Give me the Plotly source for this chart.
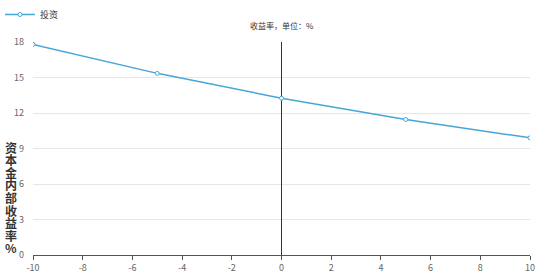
import plotly.graph_objects as go

x_vals = [-10, -5, 0, 5, 10]
irr_vals = [17.8, 15.35, 13.25, 11.45, 9.9]
series_name = "投资"
y_ticks = [0, 3, 6, 9, 12, 15, 18]
x_ticks = [-10, -8, -6, -4, -2, 0, 2, 4, 6, 8, 10]
x_tick_text = [str(v) for v in x_ticks]
title_text = "收益率，单位：%"
y_title = "资本金内部收益率%"

font = "Noto Sans CJK SC"
blue = "#46a6d8"

fig = go.Figure()
fig.add_trace(go.Scatter(
    x=x_vals, y=irr_vals, name=series_name, mode="lines+markers",
    line=dict(color=blue, width=1.5),
    marker=dict(symbol="circle", size=4, color="white", line=dict(color=blue, width=1)),
))

fig.update_layout(
    width=554, height=278,
    margin=dict(l=33, r=24, t=42, b=23, autoexpand=False),
    paper_bgcolor="white", plot_bgcolor="white",
    font=dict(family=font, size=9, color="#555"),
    showlegend=True,
    legend=dict(orientation="h", x=-0.022, y=1.0, xref="container", yref="container",
                xanchor="left", yanchor="top", font=dict(size=9, color="#333"),
                itemwidth=30, bgcolor="rgba(0,0,0,0)"),
    xaxis=dict(range=[-10, 10], tickvals=x_ticks, ticktext=x_tick_text, showgrid=False,
               showline=True, linecolor="#555", linewidth=1, automargin=False,
               ticks="outside", ticklen=4, tickcolor="#555",
               zeroline=True, zerolinecolor="#333", zerolinewidth=1,
               tickfont=dict(size=9, color="#666")),
    yaxis=dict(range=[0, 18], tickvals=y_ticks, showgrid=True, automargin=False,
               gridcolor="#e6e6e6", gridwidth=1, zeroline=False,
               showline=False, ticks="", ticklabelstandoff=8,
               tickfont=dict(size=9, color="#666")),
)

fig.add_annotation(text=title_text, x=0.5, y=1, xref="paper", yref="paper",
                   yshift=9, showarrow=False, font=dict(size=8, color="#333"),
                   xanchor="center", yanchor="bottom")

first_center = 147
step = 12.6
bottom_px = 255
for i, ch in enumerate(y_title):
    fig.add_annotation(text=ch, x=0, xref="paper", xshift=-22, y=0, yref="paper",
                       yshift=bottom_px - (first_center + i * step),
                       xanchor="center", yanchor="middle", showarrow=False,
                       font=dict(size=12, color="#333", family=font, weight="bold"))

fig.write_html("out.html")
